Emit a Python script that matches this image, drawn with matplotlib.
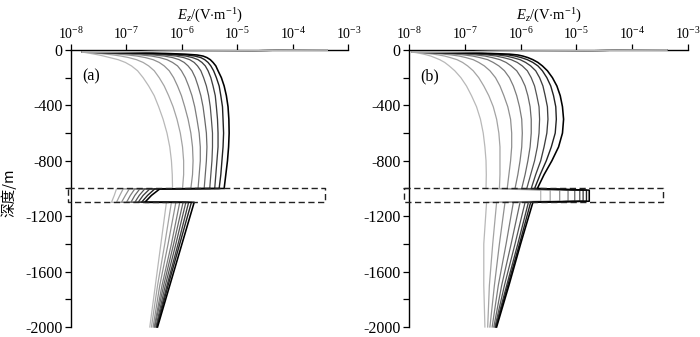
import numpy as np
import matplotlib
matplotlib.use("Agg")
import matplotlib.pyplot as plt
from matplotlib.ticker import FixedLocator, FixedFormatter, NullFormatter
import matplotlib.transforms as mtransforms

plt.rcParams['font.family'] = ['Liberation Serif', 'Noto Sans CJK SC', 'DejaVu Sans']
plt.rcParams['mathtext.fontset'] = 'custom'
plt.rcParams['mathtext.rm'] = 'Liberation Serif'
plt.rcParams['mathtext.it'] = 'Liberation Serif:italic'
plt.rcParams['axes.unicode_minus'] = False

# ---------------- data (depth in m; Ez given as its log10 exponent) ----------------
depth_upper = [0, -15, -20, -25, -30, -36, -44, -55, -70, -90, -115, -150, -200, -260,
               -330, -410, -500, -600, -700, -800, -900, -1000]
depth_a = depth_upper + [-1003, -1050, -1100, -1100, -1400, -1700, -2000]
depth_b = depth_upper + [-1012, -1092, -1100, -1400, -1700, -2000]

# panel (a): conductive layer, curves from lightest to darkest
ez_a1 = [-3.38, -7.80, -7.72, -7.65, -7.58, -7.50, -7.41, -7.30, -7.15, -7.02, -6.91, -6.80, -6.70, -6.60, -6.50, -6.42, -6.34, -6.27, -6.22, -6.19, -6.175, -6.17,
         -7.18, -7.22, -7.27, -6.28, -6.38, -6.48, -6.58]
ez_a2 = [-3.38, -7.80, -7.64, -7.50, -7.37, -7.24, -7.10, -6.96, -6.82, -6.70, -6.60, -6.50, -6.41, -6.32, -6.24, -6.16, -6.09, -6.03, -5.99, -5.97, -5.97, -5.99,
         -7.06, -7.12, -7.18, -6.19, -6.31, -6.44, -6.55]
ez_a3 = [-3.38, -7.80, -7.56, -7.34, -7.16, -6.98, -6.81, -6.66, -6.52, -6.41, -6.32, -6.23, -6.15, -6.08, -6.01, -5.95, -5.89, -5.84, -5.81, -5.80, -5.81, -5.84,
         -6.95, -7.02, -7.09, -6.11, -6.25, -6.40, -6.52]
ez_a4 = [-3.38, -7.80, -7.47, -7.18, -6.95, -6.74, -6.55, -6.40, -6.27, -6.17, -6.08, -6.01, -5.94, -5.88, -5.82, -5.77, -5.73, -5.69, -5.67, -5.67, -5.69, -5.71,
         -6.85, -6.93, -7.00, -6.04, -6.19, -6.36, -6.50]
ez_a5 = [-3.38, -7.80, -7.38, -7.02, -6.75, -6.52, -6.32, -6.17, -6.05, -5.96, -5.89, -5.82, -5.76, -5.71, -5.66, -5.62, -5.59, -5.56, -5.55, -5.56, -5.58, -5.60,
         -6.76, -6.85, -6.92, -5.98, -6.15, -6.33, -6.49]
ez_a6 = [-3.38, -7.80, -7.29, -6.86, -6.55, -6.31, -6.11, -5.97, -5.86, -5.78, -5.72, -5.66, -5.61, -5.56, -5.52, -5.49, -5.47, -5.45, -5.45, -5.46, -5.48, -5.50,
         -6.67, -6.77, -6.85, -5.93, -6.11, -6.30, -6.47]
ez_a7 = [-3.38, -7.80, -7.19, -6.68, -6.36, -6.11, -5.93, -5.81, -5.71, -5.64, -5.58, -5.53, -5.48, -5.44, -5.40, -5.38, -5.36, -5.35, -5.35, -5.37, -5.39, -5.41,
         -6.58, -6.70, -6.79, -5.88, -6.07, -6.27, -6.46]
ez_a8 = [-3.38, -7.80, -7.10, -6.50, -6.15, -5.91, -5.77, -5.66, -5.59, -5.53, -5.48, -5.43, -5.38, -5.33, -5.30, -5.27, -5.26, -5.25, -5.26, -5.28, -5.30, -5.33,
         -6.49, -6.62, -6.73, -5.83, -6.04, -6.25, -6.45]
ez_a9 = [-3.38, -7.80, -7.00, -6.30, -5.95, -5.73, -5.62, -5.55, -5.49, -5.44, -5.39, -5.35, -5.29, -5.24, -5.20, -5.17, -5.155, -5.15, -5.16, -5.18, -5.21, -5.24,
         -6.40, -6.55, -6.67, -5.78, -6.00, -6.22, -6.44]

# panel (b): resistive layer, curves from lightest to darkest
ez_b1 = [-3.38, -7.95, -7.86, -7.80, -7.74, -7.68, -7.61, -7.54, -7.45, -7.36, -7.28, -7.18, -7.07, -6.97, -6.88, -6.79, -6.72, -6.67, -6.64, -6.62, -6.615, -6.62,
         -5.64, -5.64, -6.61, -6.66, -6.66, -6.64]
ez_b2 = [-3.38, -7.95, -7.79, -7.68, -7.57, -7.47, -7.36, -7.26, -7.14, -7.04, -6.95, -6.85, -6.75, -6.66, -6.57, -6.49, -6.43, -6.39, -6.37, -6.37, -6.37, -6.38,
         -5.47, -5.47, -6.43, -6.50, -6.56, -6.59]
ez_b3 = [-3.38, -7.95, -7.71, -7.54, -7.38, -7.24, -7.10, -6.98, -6.85, -6.75, -6.65, -6.55, -6.45, -6.37, -6.30, -6.23, -6.18, -6.16, -6.16, -6.18, -6.21, -6.24,
         -5.30, -5.30, -6.28, -6.38, -6.47, -6.55]
ez_b4 = [-3.38, -7.95, -7.63, -7.39, -7.18, -7.01, -6.86, -6.73, -6.59, -6.49, -6.39, -6.29, -6.20, -6.13, -6.07, -6.02, -5.98, -5.97, -5.98, -6.01, -6.05, -6.10,
         -5.15, -5.15, -6.13, -6.26, -6.40, -6.51]
ez_b5 = [-3.38, -7.95, -7.54, -7.23, -6.98, -6.80, -6.64, -6.51, -6.37, -6.26, -6.17, -6.07, -5.99, -5.92, -5.87, -5.83, -5.81, -5.81, -5.83, -5.87, -5.92, -5.98,
         -5.03, -5.03, -6.01, -6.17, -6.34, -6.48]
ez_b6 = [-3.38, -7.95, -7.45, -7.06, -6.79, -6.60, -6.44, -6.31, -6.17, -6.06, -5.97, -5.88, -5.81, -5.75, -5.71, -5.67, -5.66, -5.67, -5.70, -5.75, -5.82, -5.89,
         -4.94, -4.94, -5.92, -6.10, -6.29, -6.46]
ez_b7 = [-3.38, -7.95, -7.35, -6.89, -6.60, -6.41, -6.26, -6.14, -6.01, -5.91, -5.82, -5.73, -5.66, -5.60, -5.56, -5.52, -5.51, -5.53, -5.58, -5.64, -5.73, -5.81,
         -4.88, -4.88, -5.86, -6.05, -6.25, -6.45]
ez_b8 = [-3.38, -7.95, -7.25, -6.72, -6.40, -6.22, -6.10, -5.99, -5.88, -5.78, -5.69, -5.61, -5.53, -5.46, -5.41, -5.37, -5.36, -5.38, -5.45, -5.54, -5.65, -5.75,
         -4.82, -4.82, -5.82, -6.02, -6.23, -6.44]
ez_b9 = [-3.38, -7.95, -7.14, -6.55, -6.20, -6.05, -5.96, -5.87, -5.78, -5.69, -5.61, -5.52, -5.43, -5.35, -5.29, -5.25, -5.23, -5.25, -5.32, -5.44, -5.58, -5.70,
         -4.77, -4.77, -5.78, -6.00, -6.21, -6.43]

curves_a = [ez_a1, ez_a2, ez_a3, ez_a4, ez_a5, ez_a6, ez_a7, ez_a8, ez_a9]
curves_b = [ez_b1, ez_b2, ez_b3, ez_b4, ez_b5, ez_b6, ez_b7, ez_b8, ez_b9]

layer_top = -1000
layer_bottom = -1100

x_tick_exponents = [-8, -7, -6, -5, -4, -3]
x_tick_labels = ['10$^{-8}$', '10$^{-7}$', '10$^{-6}$', '10$^{-5}$', '10$^{-4}$', '10$^{-3}$']
y_major = [0, -400, -800, -1200, -1600, -2000]
y_major_labels = ['0', '-400', '-800', '-1200', '-1600', '-2000']
y_minor = [-200, -600, -1000, -1400, -1800]
panel_labels = ['(a)', '(b)']
x_label = r'$E_z$/(V$\cdot$m$^{-1}$)'
y_label = '深度/m'

# ---------------- styling ----------------
grays = ['#b8b8b8', '#a4a4a4', '#909090', '#7c7c7c', '#686868', '#545454', '#3e3e3e', '#222222', '#000000']
widths = [0.9, 0.9, 0.9, 0.9, 0.9, 0.9, 0.95, 1.0, 1.15]

fig = plt.figure(figsize=(7.0, 3.37), dpi=100)
ax_a = fig.add_axes([0.1014, 0.0297, 0.3964, 0.8220])
ax_b = fig.add_axes([0.5843, 0.0297, 0.3986, 0.8220])

rect_x = {0: (-0.011, 0.915), 1: (-0.018, 0.910)}

for i, (ax, curves, depth) in enumerate([(ax_a, curves_a, depth_a), (ax_b, curves_b, depth_b)]):
    ax.set_xscale('log')
    ax.set_xlim(10.0 ** x_tick_exponents[0], 10.0 ** x_tick_exponents[-1])
    ax.set_ylim(y_major[-1], y_major[0])
    # main body of every curve (below the surface point)
    for k, ez in enumerate(curves):
        ax.plot(np.power(10.0, ez[1:]), depth[1:], color=grays[k], lw=widths[k],
                clip_on=False, zorder=3, solid_joinstyle='round')
    # surface segment of every curve, lightest drawn last
    for k in range(len(curves) - 1, -1, -1):
        ez = curves[k]
        ax.plot(np.power(10.0, ez[:2]), depth[:2], color=grays[k], lw=0.8,
                clip_on=False, zorder=3.2)
    # dashed layer rectangle
    trans = mtransforms.blended_transform_factory(ax.transAxes, ax.transData)
    x0, x1 = rect_x[i]
    ax.plot([x0, x1, x1, x0, x0], [layer_top, layer_top, layer_bottom, layer_bottom, layer_top],
            transform=trans, color='#222222', lw=1.0, dashes=(4.5, 2.5), clip_on=False, zorder=4)

    for s in ['bottom', 'right']:
        ax.spines[s].set_visible(False)
    for s in ['top', 'left']:
        ax.spines[s].set_linewidth(1.0)
        ax.spines[s].set_zorder(2)

    ax.xaxis.tick_top()
    ax.xaxis.set_major_locator(FixedLocator([10.0 ** e for e in x_tick_exponents]))
    ax.xaxis.set_major_formatter(FixedFormatter(x_tick_labels))
    ax.xaxis.set_minor_locator(FixedLocator([]))
    ax.xaxis.set_minor_formatter(NullFormatter())
    ax.tick_params(axis='x', which='major', direction='out', length=4, width=0.9,
                   labelsize=10, pad=2)
    ax.set_xlabel(x_label, fontsize=10.5, labelpad=4)
    ax.xaxis.set_label_position('top')

    ax.yaxis.set_major_locator(FixedLocator(y_major))
    ax.yaxis.set_major_formatter(FixedFormatter(y_major_labels))
    ax.yaxis.set_minor_locator(FixedLocator(y_minor))
    ax.tick_params(axis='y', which='both', direction='out', length=4, width=0.9, pad=2)
    ax.tick_params(axis='y', which='major', labelsize=11.5)

    ax.text(0.04, 0.905, panel_labels[i], transform=ax.transAxes, fontsize=11.5,
            ha='left', va='center')
    ax.set_facecolor('none')

fig.text(8.3 / 700, 1 - 192.5 / 337, y_label, rotation=90, ha='center', va='center',
         fontsize=10.5, family=['Noto Sans CJK SC', 'DejaVu Sans'])

fig.savefig('out.png', dpi=100)
